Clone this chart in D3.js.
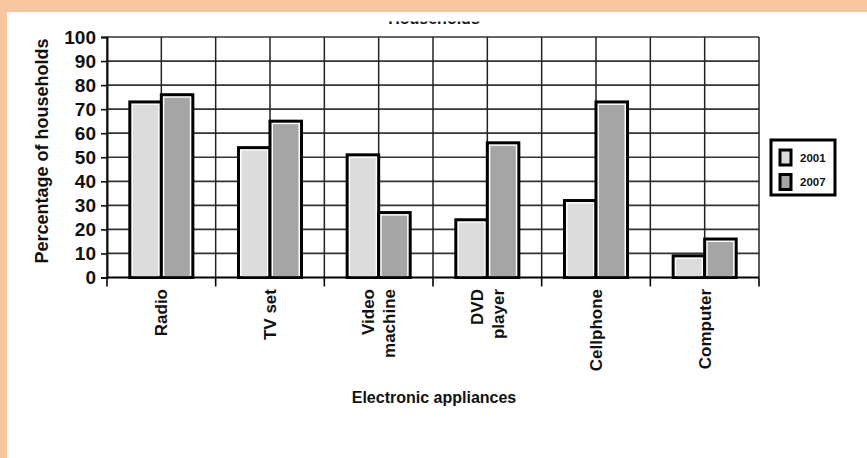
<!DOCTYPE html>
<html>
<head>
<meta charset="utf-8">
<script src="https://cdn.jsdelivr.net/npm/d3@7"></script>
<style>
  html, body { margin: 0; padding: 0; background: #fff; }
  svg { display: block; }
  text { font-family: "Liberation Sans", Arial, sans-serif; font-weight: bold; fill: #111; }
</style>
</head>
<body>
<script>
// ---- data ----
const categories = ["Radio", "TV set", "Video machine", "DVD player", "Cellphone", "Computer"];
const categoryLines = [["Radio"], ["TV set"], ["Video", "machine"], ["DVD", "player"], ["Cellphone"], ["Computer"]];
const seriesNames = ["2001", "2007"];
const values2001 = [73, 54, 51, 24, 32, 9];
const values2007 = [76, 65, 27, 56, 73, 16];
const yTicks = [0, 10, 20, 30, 40, 50, 60, 70, 80, 90, 100];
const titleText = "Households";
const xTitle = "Electronic appliances";
const yTitle = "Percentage of households";

// ---- layout ----
const W = 867, H = 458;
const pLeft = 107, pRight = 759, pTop = 37, pBottom = 277.5;
const fills = { "2001": "#dcdcdc", "2007": "#a5a5a5" };
const peach = "#f7c59f";

const svg = d3.select("body").append("svg").attr("width", W).attr("height", H);
svg.append("rect").attr("width", W).attr("height", H).attr("fill", "#fff");

const x = d3.scaleBand().domain(categories).range([pLeft, pRight]).padding(0);
const xs = d3.scaleBand().domain(seriesNames).range([x.bandwidth() * 0.21, x.bandwidth() * 0.79]).padding(0);
const y = d3.scaleLinear().domain([0, 100]).range([pBottom, pTop]);

// title, mostly hidden (only the bottoms of the glyphs show in the original crop)
svg.append("text")
  .attr("x", 434).attr("y", 24).attr("text-anchor", "middle")
  .style("font-size", "16px").text(titleText);
svg.append("rect").attr("x", 300).attr("y", 0).attr("width", 270).attr("height", 21.5).attr("fill", "#fff");

// horizontal gridlines
const g = svg.append("g");
g.selectAll("line.h").data(yTicks.filter(d => d > 0)).join("line")
  .attr("x1", pLeft).attr("x2", pRight)
  .attr("y1", d => y(d)).attr("y2", d => y(d))
  .attr("stroke", "#333").attr("stroke-width", 1.7);

// vertical gridlines at band edges and centers
const vlines = [];
categories.forEach(c => { vlines.push(x(c)); vlines.push(x(c) + x.bandwidth() / 2); });
vlines.push(pRight);
g.selectAll("line.v").data(vlines).join("line")
  .attr("x1", d => d).attr("x2", d => d)
  .attr("y1", pTop).attr("y2", pBottom)
  .attr("stroke", "#222").attr("stroke-width", 1.5);

// y axis
const yAxis = svg.append("g").attr("transform", `translate(${pLeft},0)`)
  .call(d3.axisLeft(y).tickValues(yTicks).tickSize(6).tickPadding(5));
yAxis.select(".domain").attr("stroke", "#111").attr("stroke-width", 2);
yAxis.selectAll(".tick line").attr("stroke", "#111").attr("stroke-width", 1.6);
yAxis.selectAll(".tick text").style("font-size", "19px").style("font-family", "Liberation Sans, Arial, sans-serif")
  .style("font-weight", "bold").attr("fill", "#111");

// bars
const rows = categories.map((c, i) => ({ cat: c, vals: [ {s: "2001", v: values2001[i]}, {s: "2007", v: values2007[i]} ] }));
const grp = svg.append("g").selectAll("g").data(rows).join("g")
  .attr("transform", d => `translate(${x(d.cat)},0)`);
const bar = grp.selectAll("g").data(d => d.vals).join("g");
bar.append("rect")
  .attr("x", d => xs(d.s)).attr("width", xs.bandwidth())
  .attr("y", d => y(d.v)).attr("height", d => pBottom - y(d.v))
  .attr("fill", "#fff").attr("stroke", "#000").attr("stroke-width", 3);
bar.append("rect")
  .attr("x", d => xs(d.s) + 3).attr("width", xs.bandwidth() - 6)
  .attr("y", d => y(d.v) + 3).attr("height", d => Math.max(0, pBottom - y(d.v) - 4))
  .attr("fill", d => fills[d.s]);

// x axis line and ticks
svg.append("line").attr("x1", pLeft).attr("x2", pRight).attr("y1", pBottom).attr("y2", pBottom)
  .attr("stroke", "#000").attr("stroke-width", 2);
const xt = categories.map(c => x(c)).concat([pRight]);
svg.selectAll("line.xt").data(xt).join("line")
  .attr("x1", d => d).attr("x2", d => d).attr("y1", pBottom).attr("y2", pBottom + 9)
  .attr("stroke", "#000").attr("stroke-width", 1.6);

// category labels (rotated)
categories.forEach((c, i) => {
  const lines = categoryLines[i];
  const cx = x(c) + x.bandwidth() / 2;
  const n = lines.length;
  lines.forEach((ln, j) => {
    const off = (j - (n - 1) / 2) * 21 + 6;
    svg.append("text")
      .attr("transform", `translate(${cx + off},289) rotate(-90)`)
      .attr("text-anchor", "end")
      .style("font-size", "17px")
      .text(ln);
  });
});

// axis titles
svg.append("text").attr("x", 434).attr("y", 403).attr("text-anchor", "middle")
  .style("font-size", "16px").text(xTitle);
svg.append("text").attr("transform", "translate(48,151) rotate(-90)").attr("text-anchor", "middle")
  .style("font-size", "18px").text(yTitle);

// legend
const lg = svg.append("g");
lg.append("rect").attr("x", 771).attr("y", 140).attr("width", 64).attr("height", 55)
  .attr("fill", "#fff").attr("stroke", "#000").attr("stroke-width", 3);
const li = lg.selectAll("g").data(seriesNames).join("g")
  .attr("transform", (d, i) => `translate(0,${i * 24.5})`);
li.append("rect").attr("x", 780).attr("y", 150).attr("width", 11).attr("height", 15)
  .attr("fill", d => fills[d]).attr("stroke", "#000").attr("stroke-width", 3);
li.append("text").attr("x", 800).attr("y", 161.5).style("font-size", "11.5px").text(d => d);

// peach frame
svg.append("rect").attr("x", 0).attr("y", 0).attr("width", W).attr("height", 12).attr("fill", peach);
svg.append("rect").attr("x", 0).attr("y", 0).attr("width", 7).attr("height", H).attr("fill", peach);
</script>
</body>
</html>
